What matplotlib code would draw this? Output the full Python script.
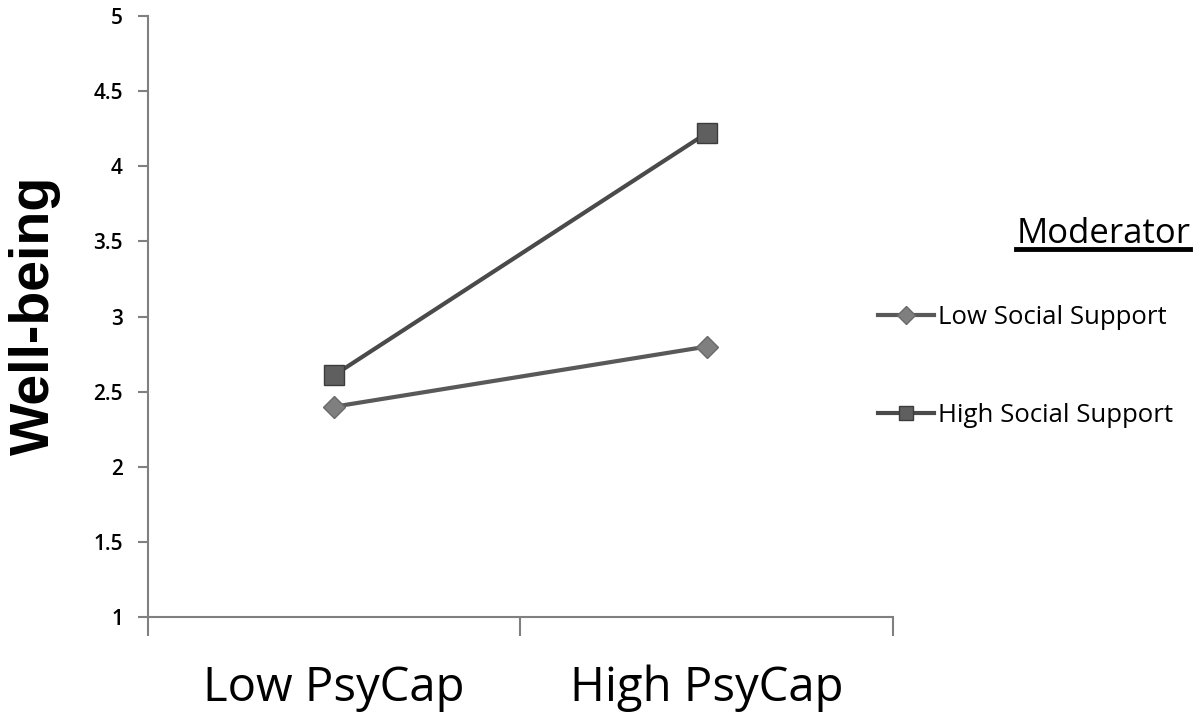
#importing libraries
import matplotlib.pyplot as plt
from matplotlib.lines import Line2D

# ------------------DATA-------------------
groups = ['Low PsyCap', 'High PsyCap']
low_support = [2.40, 2.80]   # diamonds
high_support = [2.61, 4.22]  # squares
series_names = ['Low Social Support', 'High Social Support']
y_ticks = [1, 1.5, 2, 2.5, 3, 3.5, 4, 4.5, 5]
y_tick_labels = ['1', '1.5', '2', '2.5', '3', '3.5', '4', '4.5', '5']

plt.rcParams['font.family'] = ['Open Sans', 'DejaVu Sans']

fig = plt.figure(figsize=(12, 7.26), dpi=100)
ax = fig.add_axes([0.1233, 0.150, 0.6207, 0.828])

# category centres at 0.5, 1.5 between tick marks 0,1,2
xs = [i + 0.5 for i in range(len(groups))]

ax.plot(xs, low_support, color='#595959', lw=3, marker='D', markersize=11,
        markerfacecolor='#7f7f7f', markeredgecolor='#6a6a6a', zorder=3)
ax.plot(xs, high_support, color='#4a4a4a', lw=3, marker='s', markersize=14,
        markerfacecolor='#5f5f5f', markeredgecolor='#3c3c3c', zorder=3)

ax.set_xlim(0, len(groups))
ax.set_ylim(1, 5)

ax.set_xticks(range(len(groups) + 1))
ax.set_xticklabels([])
ax.set_xticks(xs, minor=True)
ax.set_xticklabels(groups, minor=True)
ax.tick_params(axis='x', which='minor', length=0, pad=34, labelsize=34)
ax.tick_params(axis='x', which='major', direction='out', length=14, width=1.5, color='#808080')

ax.set_yticks(y_ticks)
ax.set_yticklabels(y_tick_labels, fontweight='semibold')
ax.tick_params(axis='y', direction='out', length=7, width=1.5, color='#808080',
               pad=11, labelsize=15)

for side in ['top', 'right']:
    ax.spines[side].set_visible(False)
for side in ['left', 'bottom']:
    ax.spines[side].set_color('#808080')
    ax.spines[side].set_linewidth(1.5)

# y label placed by hand so it sits where the original is
fig.text(0.029, 0.566, 'Well-being', fontsize=40, fontweight='bold', rotation=90,
         ha='center', va='center', family=['Liberation Sans', 'DejaVu Sans'])

# ------------------LEGEND (manual, with underlined title)-------------------
title = fig.text(0.992, 0.677, 'Moderator', fontsize=25, ha='right', va='center')
fig.canvas.draw()
bb = title.get_window_extent().transformed(fig.transFigure.inverted())
fig.add_artist(Line2D([bb.x0, bb.x1], [bb.y0 + 0.004, bb.y0 + 0.004], color='black', lw=3.5))

handles = [
    Line2D([], [], color='#595959', lw=3, marker='D', markersize=9,
           markerfacecolor='#7f7f7f', markeredgecolor='#6a6a6a'),
    Line2D([], [], color='#4a4a4a', lw=3, marker='s', markersize=10,
           markerfacecolor='#5f5f5f', markeredgecolor='#3c3c3c'),
]
fig.legend(handles, series_names, loc='upper left', bbox_to_anchor=(0.712, 0.612),
           frameon=False, fontsize=18.5, handlelength=2.2, handletextpad=0.15,
           labelspacing=2.85)

fig.savefig('out.png', dpi=100)
